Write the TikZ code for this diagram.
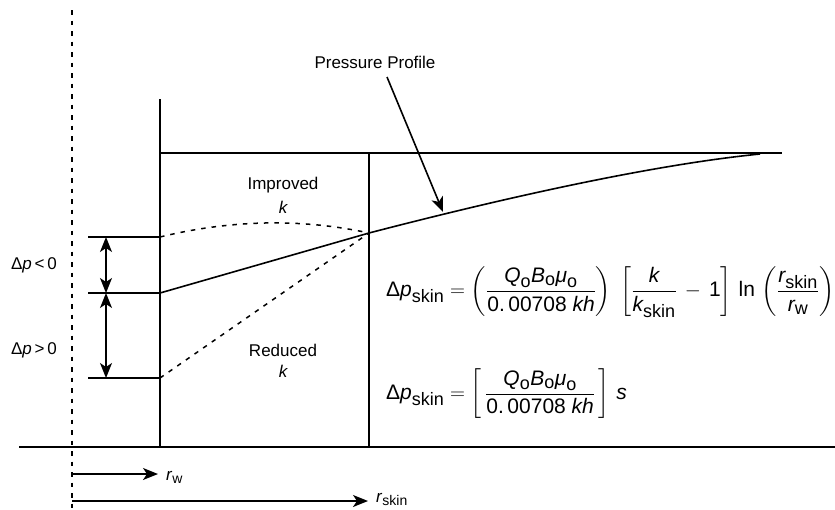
\documentclass[tikz,border=0pt]{standalone}
\usepackage{amsmath}
\usepackage{fontspec}
\setmainfont{Liberation Sans}
\usetikzlibrary{arrows.meta}
\DeclareMathSizes{21}{21}{18}{15}
\newcommand\mi[1]{\text{\itshape #1}}
\newcommand\tx[1]{\text{#1}}
\tikzset{
  ln/.style={line width=1.6pt, draw=black},
  dsh/.style={line width=1.5pt, draw=black, dash pattern=on 4.5pt off 6pt},
  tip/.style={-{Stealth[length=15pt,width=12pt,inset=4pt]}},
  dtip/.style={{Stealth[length=15pt,width=12pt,inset=4pt]}-{Stealth[length=15pt,width=12pt,inset=4pt]}},
  lbl/.style={font=\fontsize{17}{20}\selectfont, inner sep=0pt, align=center},
  eqn/.style={font=\fontsize{21}{25}\selectfont, inner sep=0pt, anchor=west},
}
\begin{document}
\begin{tikzpicture}[x=1pt,y=-1pt]
\useasboundingbox (0,0) rectangle (835,509);
% frame coordinates
\coordinate (axT) at (72,10);
\coordinate (axB) at (72,509);
\coordinate (wT) at (160,99);
\coordinate (wB) at (160,447);
\coordinate (sT) at (369,153);
\coordinate (sB) at (369,447);
\coordinate (topL) at (160,153);
\coordinate (topR) at (782,153);
\coordinate (botL) at (19,447);
\coordinate (botR) at (835,447);
\coordinate (t1L) at (88,237);
\coordinate (t1R) at (160,237);
\coordinate (t2L) at (88,293);
\coordinate (t2R) at (160,293);
\coordinate (t3L) at (88,378);
\coordinate (t3R) at (160,378);
\coordinate (a1) at (106,237);
\coordinate (a2) at (106,293);
\coordinate (a3) at (106,378);
\coordinate (mid) at (369,233);
\coordinate (pEnd) at (760,154);
\coordinate (ppS) at (387,77);
\coordinate (ppE) at (443,212);
\coordinate (rwS) at (72,474);
\coordinate (rwE) at (158,474);
\coordinate (rsS) at (72,501);
\coordinate (rsE) at (368,501);

% lines
\draw[dsh] (axT) -- (axB);
\draw[ln] (wT) -- (wB);
\draw[ln] (sT) -- (sB);
\draw[ln] (topL) -- (topR);
\draw[ln] (botL) -- (botR);
\draw[ln] (t1L) -- (t1R);
\draw[ln] (t2L) -- (t2R);
\draw[ln] (t3L) -- (t3R);
\draw[ln,dtip] (a1) -- (a2);
\draw[ln,dtip] (a2) -- (a3);

% profiles
\draw[ln] (t2R) -- (mid) .. controls (500,199) and (650,165) .. (pEnd);
\draw[dsh] (t1R) .. controls (230,220) and (300,218) .. (mid);
\draw[dsh] (t3R) -- (mid);

% labels
\node[lbl] (pp) at (375,62) {Pressure Profile};
\draw[ln,tip] (ppS) -- (ppE);
\node[lbl] (imp) at (283,185) {Improved};
\node[lbl] (impk) at (283,207) {\itshape k};
\node[lbl] (red) at (283,350) {Reduced};
\node[lbl] (redk) at (283,371) {\itshape k};
\node[lbl] (dpn) at (34,265) {Δ\textit{p}\,<\,0};
\node[lbl] (dpp) at (34,350) {Δ\textit{p}\,>\,0};

% radius arrows
\draw[ln,tip] (rwS) -- (rwE);
\node[lbl,anchor=base west] (rw) at (166,480) {\textit{r}\raisebox{-3pt}{\fontsize{14}{16}\selectfont w}};
\draw[ln,tip] (rsS) -- (rsE);
\node[lbl,anchor=base west] (rs) at (376,502) {\textit{r}\raisebox{-3pt}{\fontsize{14}{16}\selectfont skin}};

% equations
\node[eqn] (eq1) at (386,292) {$\tx{Δ}\mi{p}_{\tx{skin}} = \left(\dfrac{\mi{Q}_{\tx{o}}\mi{B}_{\tx{o}}\mi{μ}_{\tx{o}}}{\tx{0.\,00708 \itshape kh}}\right)\;\left[\dfrac{\mi{k}}{\mi{k}_{\tx{skin}}}\,-\,\tx{1}\right]\,\tx{ln}\,\left(\dfrac{\mi{r}_{\tx{skin}}}{\mi{r}_{\tx{w}}}\right)$};
\node[eqn] (eq2) at (386,394) {$\tx{Δ}\mi{p}_{\tx{skin}} = \left[\,\dfrac{\mi{Q}_{\tx{o}}\mi{B}_{\tx{o}}\mi{μ}_{\tx{o}}}{\tx{0.\,00708 \itshape kh}}\,\right]\,\mi{s}$};
\end{tikzpicture}
\end{document}
